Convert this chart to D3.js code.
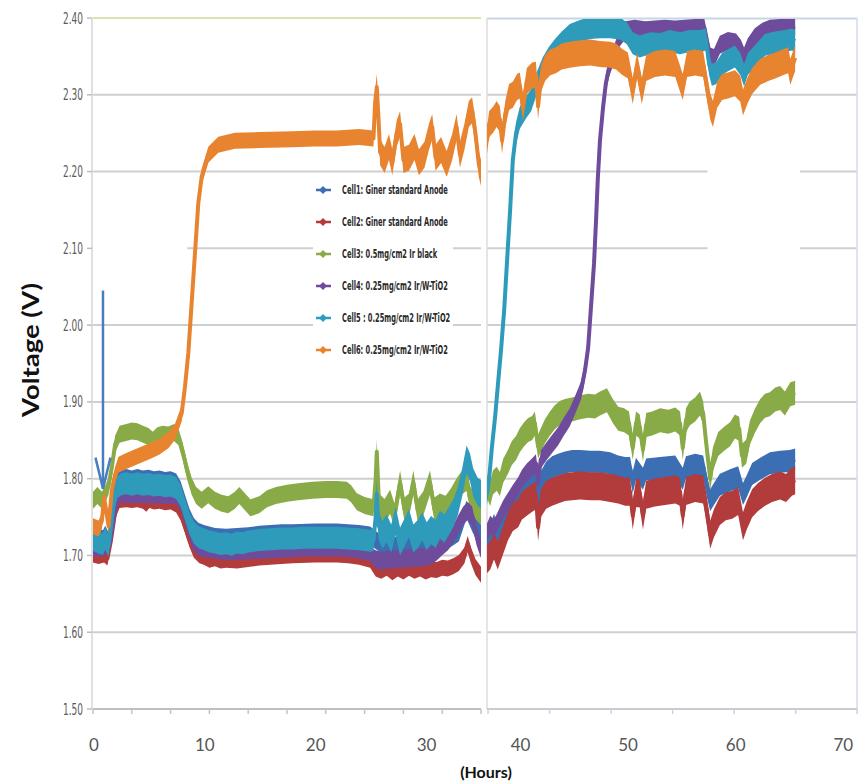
<!DOCTYPE html>
<html>
<head>
<meta charset="utf-8">
<script src="https://cdn.jsdelivr.net/npm/d3@7"></script>
<style>
  body { margin: 0; background: #ffffff; }
  svg { display: block; }
</style>
</head>
<body>
<svg id="chart" width="864" height="781"></svg>
<script>
// ---- Axis ticks and labels ----
const voltTicks = [1.50, 1.60, 1.70, 1.80, 1.90, 2.00, 2.10, 2.20, 2.30, 2.40];
const hourLabelsLeft = [0, 10, 20, 30];
const hourLabelsRight = [40, 50, 60, 70];
const legendLabels = [
  "Cell1: Giner standard Anode",
  "Cell2: Giner standard Anode",
  "Cell3: 0.5mg/cm2 Ir black",
  "Cell4: 0.25mg/cm2 Ir/W-TiO2",
  "Cell5 : 0.25mg/cm2 Ir/W-TiO2",
  "Cell6: 0.25mg/cm2 Ir/W-TiO2"
];

// ---- Cell voltage traces: [hours, volts] ----
const cell1 = [
  [0,1.725],[0.5,1.723],[0.9,1.721],[1.1,1.727],[1.4,1.718],[1.6,1.74],[1.9,1.778],[2.2,1.796],[2.6,1.80],[3,1.801],
  [3.5,1.799],[4,1.801],[4.5,1.799],[5,1.80],[5.5,1.798],[6,1.799],[6.5,1.797],[7,1.798],[7.5,1.795],[7.9,1.785],
  [8.3,1.767],[8.7,1.749],[9.1,1.737],[9.5,1.731],[10,1.728],[11,1.724],[12,1.723],[13,1.724],[14,1.725],[15,1.727],
  [16,1.728],[17,1.729],[18,1.729],[20,1.73],[22,1.73],[23,1.729],[24,1.728],[25,1.726],[25.5,1.72],[26,1.715],
  [27,1.712],[28,1.714],[29,1.713],[30,1.715],[31,1.717],[32,1.72],[33,1.73],[33.7,1.76],[34.3,1.74],[35,1.73],
  [36.6,1.72],[36.9,1.725],[37.25,1.74],[37.6,1.725],[38.1,1.745],[38.55,1.762],[39.0,1.775],[39.5,1.78],[39.85,1.79],[40.3,1.795],
  [40.8,1.80],[41.15,1.804],[41.35,1.765],[41.6,1.795],[42.1,1.808],[42.65,1.815],[43.2,1.818],[43.85,1.821],[44.5,1.823],[45.25,1.823],
  [46.2,1.822],[47.1,1.822],[48.05,1.82],[48.8,1.816],[49.45,1.814],[49.9,1.814],[50.15,1.795],[50.45,1.813],[51.1,1.80],[51.4,1.812],
  [52.7,1.814],[54.1,1.816],[54.8,1.80],[55.1,1.815],[55.95,1.818],[56.7,1.816],[57.05,1.79],[57.35,1.772],[57.7,1.78],[58.25,1.792],
  [59.2,1.798],[59.95,1.802],[60.4,1.78],[60.75,1.79],[61.25,1.806],[62.0,1.813],[62.9,1.82],[63.85,1.822],[64.75,1.823],[65.25,1.825]
];
const cell2 = [
  [0,1.70],[0.5,1.698],[1,1.70],[1.3,1.696],[1.6,1.718],[2,1.757],[2.4,1.771],[3,1.772],[3.5,1.771],[4,1.772],
  [4.5,1.77],[4.8,1.766],[5.1,1.771],[5.5,1.769],[6,1.77],[6.5,1.768],[7,1.769],[7.5,1.765],[7.9,1.755],[8.3,1.738],
  [8.7,1.72],[9.1,1.706],[9.6,1.699],[10,1.697],[10.5,1.693],[11,1.695],[11.5,1.692],[12,1.693],[13,1.692],[14,1.694],
  [15,1.696],[16,1.697],[17,1.698],[18,1.699],[20,1.70],[22,1.70],[23,1.699],[24,1.697],[25,1.693],[25.5,1.683],
  [26,1.68],[26.5,1.684],[27,1.678],[27.5,1.683],[28,1.679],[28.5,1.684],[29,1.68],[29.5,1.683],[30,1.679],[30.5,1.682],
  [31,1.681],[31.5,1.684],[32,1.683],[32.5,1.686],[33,1.69],[33.5,1.70],[33.8,1.715],[34.1,1.70],[34.5,1.685],[35,1.675],
  [36.6,1.695],[36.9,1.70],[37.25,1.713],[37.6,1.70],[38.1,1.72],[38.55,1.738],[39.0,1.75],[39.5,1.755],[39.85,1.765],[40.3,1.77],
  [40.8,1.775],[41.15,1.778],[41.35,1.737],[41.6,1.768],[42.1,1.779],[42.65,1.783],[43.2,1.786],[43.85,1.789],[44.5,1.79],[45.25,1.791],
  [46.2,1.79],[47.1,1.79],[48.05,1.788],[48.8,1.786],[49.45,1.783],[49.9,1.783],[50.15,1.752],[50.45,1.781],[50.8,1.781],[51.1,1.752],
  [51.4,1.779],[52.2,1.782],[53.15,1.784],[54.1,1.786],[54.55,1.783],[54.8,1.752],[55.1,1.784],[55.95,1.788],[56.7,1.786],[57.05,1.757],
  [57.35,1.727],[57.7,1.742],[58.25,1.758],[58.8,1.764],[59.4,1.766],[59.95,1.771],[60.4,1.738],[60.75,1.752],[61.25,1.768],[61.8,1.776],
  [62.45,1.783],[63.1,1.788],[63.85,1.791],[64.4,1.788],[64.95,1.796],[65.25,1.798]
];
const cell3 = [
  [0,1.772],[0.4,1.778],[0.8,1.772],[1.1,1.78],[1.4,1.79],[1.7,1.815],[2.0,1.845],[2.4,1.858],[3,1.86],[3.5,1.862],
  [4,1.861],[4.5,1.858],[5,1.855],[5.4,1.85],[5.8,1.856],[6.3,1.858],[6.8,1.857],[7.3,1.86],[7.7,1.855],[8.1,1.835],
  [8.5,1.81],[8.9,1.79],[9.3,1.778],[9.8,1.772],[10.4,1.779],[11,1.772],[11.6,1.768],[12.2,1.766],[12.8,1.772],[13.2,1.778],
  [13.7,1.77],[14.2,1.762],[15,1.766],[15.7,1.774],[16.5,1.778],[17.5,1.781],[18.5,1.783],[19.8,1.785],[21,1.786],[22,1.786],
  [22.9,1.785],[23.3,1.78],[23.8,1.77],[24.5,1.765],[25.3,1.762],[25.5,1.80],[25.6,1.835],[25.7,1.80],[25.8,1.765],[26.3,1.758],
  [26.8,1.77],[27.2,1.752],[27.7,1.795],[28.1,1.76],[28.5,1.765],[28.9,1.795],[29.3,1.758],[29.8,1.768],[30.4,1.795],[30.8,1.76],
  [31.3,1.765],[31.8,1.762],[32.3,1.772],[32.8,1.785],[33.3,1.795],[33.7,1.80],[34,1.775],[34.4,1.765],[35,1.755],
  [36.6,1.79],[36.9,1.78],[37.15,1.795],[37.5,1.80],[37.8,1.793],[38.1,1.81],[38.55,1.822],[38.9,1.833],[39.3,1.84],[39.65,1.85],
  [40.05,1.858],[40.4,1.863],[40.8,1.866],[41.05,1.872],[41.35,1.842],[41.6,1.85],[42.0,1.862],[42.45,1.872],[42.9,1.88],[43.4,1.886],
  [43.85,1.888],[44.5,1.89],[45.25,1.893],[46.0,1.895],[46.65,1.894],[47.1,1.898],[47.75,1.902],[48.3,1.888],[48.8,1.878],[49.35,1.876],
  [49.8,1.872],[50.15,1.84],[50.45,1.872],[50.8,1.868],[51.1,1.838],[51.4,1.87],[51.95,1.872],[52.7,1.876],[53.45,1.874],[54.1,1.877],
  [54.55,1.872],[54.8,1.84],[55.1,1.876],[55.45,1.885],[55.95,1.89],[56.4,1.898],[56.7,1.885],[56.95,1.85],[57.35,1.80],[57.6,1.825],
  [58.1,1.845],[58.65,1.852],[59.2,1.858],[59.65,1.868],[60.05,1.865],[60.3,1.83],[60.7,1.835],[61.05,1.86],[61.5,1.875],[62.0,1.888],
  [62.45,1.895],[62.9,1.897],[63.4,1.903],[63.85,1.905],[64.3,1.898],[64.8,1.91],[65.25,1.912]
];
const cell4 = [
  [0,1.708],[1,1.708],[1.5,1.715],[2,1.76],[2.4,1.778],[7.5,1.776],[8,1.765],[8.5,1.74],[9,1.718],[9.5,1.708],
  [12,1.703],[20,1.708],[23,1.707],[24,1.705],[25,1.702],[25.5,1.695],[26,1.693],[27,1.695],[28,1.696],[29,1.697],
  [30,1.698],[30.5,1.70],[31,1.705],[31.5,1.712],[32,1.718],[32.5,1.728],[33,1.742],[33.4,1.752],[33.8,1.758],[34.2,1.752],
  [34.6,1.725],[35,1.708],
  [36.6,1.73],[36.9,1.74],[37.25,1.735],[37.6,1.745],[38.1,1.76],[38.55,1.77],[39.0,1.78],[39.5,1.79],[39.85,1.80],[40.3,1.808],
  [40.8,1.815],[41.15,1.82],[41.35,1.795],[41.6,1.825],[42.1,1.835],[42.65,1.845],[43.2,1.855],[43.75,1.868],[44.3,1.88],[44.85,1.898],
  [45.35,1.915],[45.7,1.94],[46.0,1.97],[46.25,2.02],[46.55,2.08],[46.75,2.14],[46.9,2.19],[47.1,2.24],[47.4,2.285],[47.65,2.315],
  [47.95,2.335],[48.2,2.345],[48.6,2.36],[48.95,2.375],[49.45,2.384],[50.35,2.386],[51.3,2.384],[52.2,2.385],[53.15,2.386],[54.1,2.385],
  [55.0,2.386],[55.95,2.387],[56.8,2.388],[57.05,2.37],[57.35,2.35],[57.7,2.348],[58.25,2.365],[59.0,2.37],[59.75,2.368],[60.2,2.36],
  [60.5,2.35],[60.85,2.362],[61.5,2.375],[62.2,2.382],[62.9,2.386],[63.85,2.387],[64.75,2.388],[65.25,2.389]
];
const cell5 = [
  [0,1.72],[0.5,1.717],[0.9,1.715],[1.1,1.722],[1.4,1.712],[1.6,1.735],[1.9,1.772],[2.2,1.789],[2.6,1.793],[3,1.794],
  [3.5,1.792],[4,1.794],[4.5,1.792],[5,1.793],[5.5,1.791],[6,1.792],[6.5,1.79],[7,1.791],[7.5,1.788],[7.9,1.778],
  [8.3,1.76],[8.7,1.742],[9.1,1.73],[9.5,1.724],[10,1.721],[10.5,1.718],[11,1.717],[11.5,1.715],[12,1.716],[12.5,1.714],
  [13,1.717],[13.5,1.716],[14,1.718],[15,1.72],[16,1.721],[17,1.722],[18,1.722],[19,1.723],[20,1.723],[21,1.723],
  [22,1.723],[23,1.722],[24,1.721],[25,1.719],[25.3,1.72],[25.5,1.75],[25.6,1.78],[25.75,1.74],[26.1,1.727],[26.5,1.735],
  [26.9,1.722],[27.3,1.745],[27.7,1.718],[28.1,1.73],[28.5,1.742],[28.9,1.722],[29.3,1.728],[29.7,1.738],[30.1,1.725],[30.5,1.733],
  [30.9,1.728],[31.3,1.74],[31.7,1.735],[32.1,1.745],[32.5,1.755],[32.9,1.77],[33.3,1.795],[33.7,1.825],[34.0,1.815],[34.3,1.795],
  [34.7,1.783],[35,1.78],
  [36.6,1.78],[36.8,1.80],[37.05,1.84],[37.35,1.88],[37.6,1.92],[37.9,1.967],[38.2,2.02],[38.45,2.08],[38.75,2.15],[39.0,2.215],
  [39.3,2.25],[39.65,2.27],[40.25,2.284],[40.7,2.293],[41.25,2.316],[41.8,2.335],[42.35,2.348],[42.9,2.358],[43.55,2.368],[44.3,2.378],
  [45.25,2.383],[46.2,2.387],[47.1,2.388],[48.05,2.388],[49.0,2.386],[49.6,2.38],[50.15,2.367],[50.8,2.363],[51.75,2.367],[52.7,2.366],
  [53.6,2.37],[54.55,2.367],[55.45,2.37],[56.4,2.37],[56.95,2.372],[57.25,2.34],[57.5,2.326],[57.9,2.328],[58.45,2.34],[59.0,2.345],
  [59.65,2.35],[60.15,2.34],[60.5,2.325],[60.85,2.34],[61.5,2.35],[62.45,2.365],[63.4,2.368],[64.3,2.37],[64.95,2.372],[65.25,2.37]
];
const cell6 = [
  [0,1.738],[0.5,1.735],[0.8,1.745],[1.0,1.775],[1.2,1.758],[1.4,1.738],[1.7,1.785],[2.0,1.805],[2.3,1.818],[3,1.823],
  [3.8,1.828],[4.5,1.832],[5.3,1.837],[6,1.842],[6.8,1.85],[7.4,1.861],[8,1.885],[8.3,1.92],[8.6,1.964],[8.9,2.029],
  [9.2,2.094],[9.5,2.159],[9.8,2.193],[10.4,2.222],[11.3,2.235],[12.8,2.24],[15,2.241],[18,2.242],[20,2.243],[22,2.243],
  [24,2.245],[25.3,2.243],[25.45,2.29],[25.6,2.31],[25.75,2.27],[25.9,2.225],[26.3,2.215],[26.7,2.232],[27.0,2.212],[27.4,2.25],
  [27.7,2.262],[28.0,2.215],[28.5,2.218],[29.0,2.232],[29.4,2.212],[29.9,2.222],[30.3,2.245],[30.6,2.258],[30.9,2.218],[31.4,2.228],
  [31.9,2.21],[32.4,2.232],[32.8,2.258],[33.1,2.222],[33.5,2.245],[33.9,2.275],[34.2,2.28],[34.5,2.25],[34.8,2.21],[35,2.198],
  [36.6,2.24],[36.8,2.262],[37.15,2.267],[37.5,2.275],[37.8,2.268],[38.0,2.24],[38.3,2.275],[38.65,2.297],[39.0,2.30],[39.4,2.31],
  [39.65,2.312],[39.95,2.283],[40.3,2.318],[40.8,2.325],[41.15,2.326],[41.35,2.285],[41.6,2.32],[42.0,2.335],[42.45,2.342],[43.0,2.345],
  [43.55,2.35],[44.3,2.352],[45.25,2.354],[46.2,2.355],[47.1,2.353],[48.05,2.352],[48.6,2.35],[49.15,2.343],[49.7,2.338],[50.15,2.305],
  [50.55,2.338],[51.0,2.305],[51.4,2.335],[52.2,2.34],[53.15,2.342],[54.1,2.34],[54.8,2.31],[55.2,2.34],[55.95,2.342],[56.7,2.34],
  [57.05,2.31],[57.35,2.285],[57.6,2.275],[58.0,2.3],[58.45,2.31],[59.0,2.312],[59.65,2.315],[60.15,2.308],[60.4,2.29],[60.8,2.305],
  [61.25,2.318],[62.0,2.33],[62.75,2.335],[63.4,2.338],[64.05,2.342],[64.6,2.345],[64.8,2.33],[65.25,2.348]
];

// Arrow marking the start of the test: [hours, from volts, to volts]
const startArrow = [0.9, 2.045, 1.787];

// ---- Layout ----
const svg = d3.select("#chart");
const y = d3.scaleLinear([1.5, 2.4], [709, 18]);
const xL = d3.scaleLinear([0, 35], [93, 481]);      // first run
const xR = d3.scaleLinear([36.6, 71], [487, 857]);  // continued run
const SPLIT_H = 36;
const NOISY_FROM = 25.4;

const styles = [
  { color: "#3b6eb2", hw: { calm: 9,  noisy: 9,  right: 11 } },
  { color: "#b23b3b", hw: { calm: 7,  noisy: 8,  right: 14 } },
  { color: "#88ab48", hw: { calm: 8.5, noisy: 12, right: 12 } },
  { color: "#6f4b9b", hw: { calm: 7,  noisy: 9,  right: 9 } },
  { color: "#2f9bbb", hw: { calm: 11, noisy: 14, right: 11 } },
  { color: "#e8842f", hw: { calm: 8,  noisy: 13, right: 13 } }
];
const cells = [cell1, cell2, cell3, cell4, cell5, cell6];

const gridColor = "#cfcfcf";
const gridGaps = [
  { v: 2.1, panel: "L", from: 0, to: 8.5 },
  { v: 2.2, panel: "R", from: 57.1, to: 65.7 },
  { v: 2.1, panel: "R", from: 57.1, to: 65.7 }
];

const defs = svg.append("defs");
defs.append("clipPath").attr("id", "clipL").append("rect")
  .attr("x", xL(0)).attr("y", y(2.4)).attr("width", xL(35) - xL(0)).attr("height", y(1.5) - y(2.4));
defs.append("clipPath").attr("id", "clipR").append("rect")
  .attr("x", xR.range()[0]).attr("y", y(2.4) + 1).attr("width", xR.range()[1] - xR.range()[0]).attr("height", y(1.5) - y(2.4) - 1);

// ---- Gridlines ----
const grid = svg.append("g");
function gridSegments(v, panel, x, h0, h1) {
  const gaps = gridGaps.filter(g => g.v === v && g.panel === panel);
  let segs = [[h0, h1]];
  gaps.forEach(g => {
    segs = segs.flatMap(([a, b]) => {
      const out = [];
      if (g.from > a) out.push([a, Math.min(b, g.from)]);
      if (g.to < b) out.push([Math.max(a, g.to), b]);
      return out;
    });
  });
  segs.forEach(([a, b]) => {
    grid.append("line")
      .attr("x1", x(a)).attr("x2", x(b))
      .attr("y1", y(v)).attr("y2", y(v))
      .attr("stroke", gridColor).attr("stroke-width", 2);
  });
}
voltTicks.filter(v => v > 1.5 && v < 2.4).forEach(v => {
  gridSegments(v, "L", xL, 0, 35);
  gridSegments(v, "R", xR, xR.domain()[0], 71);
});

// Top edges of the two panels
grid.append("line").attr("x1", xL(0)).attr("x2", xL(35)).attr("y1", y(2.4)).attr("y2", y(2.4))
  .attr("stroke", "#dde2b0").attr("stroke-width", 2);
grid.append("line").attr("x1", xR(36.6)).attr("x2", xR(71)).attr("y1", y(2.4) + 0.5).attr("y2", y(2.4) + 0.5)
  .attr("stroke", "#c9d6e3").attr("stroke-width", 2);
// Right panel side borders
grid.append("line").attr("x1", xR(71)).attr("x2", xR(71)).attr("y1", y(2.4)).attr("y2", y(1.5))
  .attr("stroke", "#d3dde8").attr("stroke-width", 1.5);
grid.append("line").attr("x1", xR(36.6)).attr("x2", xR(36.6)).attr("y1", y(2.4)).attr("y2", y(1.5))
  .attr("stroke", "#dcdcdc").attr("stroke-width", 1.5);

// Left vertical axis
grid.append("line").attr("x1", xL(0) - 1).attr("x2", xL(0) - 1).attr("y1", y(2.4)).attr("y2", y(1.5))
  .attr("stroke", "#d6d6d6").attr("stroke-width", 1.5);
voltTicks.forEach(v => {
  grid.append("line").attr("x1", xL(0) - 6).attr("x2", xL(0) - 1).attr("y1", y(v)).attr("y2", y(v))
    .attr("stroke", "#bdbdbd").attr("stroke-width", 1.5);
});

// Horizontal axes with minor ticks
grid.append("line").attr("x1", xL(0)).attr("x2", xL(35)).attr("y1", y(1.5)).attr("y2", y(1.5))
  .attr("stroke", "#bfbfbf").attr("stroke-width", 2);
d3.range(0, 35.01, 3.5).forEach(h => {
  grid.append("line").attr("x1", xL(h)).attr("x2", xL(h)).attr("y1", y(1.5)).attr("y2", y(1.5) + 5)
    .attr("stroke", "#c4c4c4").attr("stroke-width", 1.5);
});
grid.append("line").attr("x1", xR(36.6)).attr("x2", xR(71)).attr("y1", y(1.5)).attr("y2", y(1.5))
  .attr("stroke", "#c8ccd2").attr("stroke-width", 2);
d3.range(36.7, 71.2, 5.72).forEach(h => {
  grid.append("line").attr("x1", xR(h)).attr("x2", xR(h)).attr("y1", y(1.5)).attr("y2", y(1.5) + 5)
    .attr("stroke", "#cdd2d8").attr("stroke-width", 1.5);
});

// ---- Traces ----
const plotL = svg.append("g").attr("clip-path", "url(#clipL)");
const plotR = svg.append("g").attr("clip-path", "url(#clipR)");

cells.forEach((data, i) => {
  const st = styles[i];
  const left = data.filter(d => d[0] < SPLIT_H);
  const right = data.filter(d => d[0] >= SPLIT_H);
  const hwL = d => (d[0] >= NOISY_FROM ? st.hw.noisy : st.hw.calm);
  const hwR = () => st.hw.right;

  [[plotL, left, xL, hwL], [plotR, right, xR, hwR]].forEach(([g, pts, x, hw]) => {
    if (!pts.length) return;
    const band = d3.area()
      .x(d => x(d[0]))
      .y0(d => y(d[1]) + hw(d))
      .y1(d => y(d[1]) - hw(d));
    const line = d3.line().x(d => x(d[0])).y(d => y(d[1]));
    g.append("path").datum(pts).attr("d", band).attr("fill", st.color);
    g.append("path").datum(pts).attr("d", line)
      .attr("fill", "none").attr("stroke", st.color).attr("stroke-width", 4)
      .attr("stroke-linejoin", "round");
  });
});

// ---- Start arrow ----
const arrowColor = "#4a7dc0";
const [ah, av0, av1] = startArrow;
svg.append("line")
  .attr("x1", xL(ah)).attr("x2", xL(ah))
  .attr("y1", y(av0)).attr("y2", y(av1))
  .attr("stroke", arrowColor).attr("stroke-width", 2.5);
svg.append("polyline")
  .attr("points", [[xL(ah) - 7.5, y(av1) - 31], [xL(ah), y(av1)], [xL(ah) + 7.5, y(av1) - 31]].map(p => p.join(",")).join(" "))
  .attr("fill", "none").attr("stroke", arrowColor).attr("stroke-width", 2.5)
  .attr("stroke-linejoin", "miter");

// ---- Legend ----
const legend = svg.append("g").attr("transform", "translate(313,176)");
legend.append("rect").attr("width", 140).attr("height", 187).attr("fill", "#ffffff");
const narrow = "'Liberation Sans Narrow','DejaVu Sans Condensed','Liberation Sans',sans-serif";
const rows = legend.selectAll("g.row").data(legendLabels).join("g")
  .attr("class", "row")
  .attr("transform", (d, i) => `translate(0,${14 + i * 32})`);
rows.append("line").attr("x1", 3).attr("x2", 18).attr("y1", 0).attr("y2", 0)
  .attr("stroke", (d, i) => styles[i].color).attr("stroke-width", 2.5);
rows.append("path").attr("d", "M10,-4 L14,0 L10,4 L6,0 Z")
  .attr("fill", (d, i) => styles[i].color);
const legendText = rows.append("text")
  .attr("x", 0).attr("y", 4)
  .attr("font-family", narrow).attr("font-weight", "bold").attr("font-size", 11.5)
  .attr("fill", "#2a2a2a")
  .text(d => d);
const lw = legendText.node().getComputedTextLength();
const ls = 106 / lw;
legendText.attr("transform", `translate(29,0) scale(${ls},1)`);

// ---- Tick labels ----
const ylab = svg.append("g");
const yText = ylab.selectAll("text").data(voltTicks).join("text")
  .attr("font-family", narrow).attr("font-size", 16).attr("fill", "#5a5a5a")
  .attr("text-anchor", "end")
  .text(d => d.toFixed(2));
const yw = yText.node().getComputedTextLength();
const ys = 20 / yw;
yText.attr("transform", d => `translate(83,${y(d) + 5.5}) scale(${ys},1)`);

const xfont = "Lato, 'Open Sans', sans-serif";
svg.append("g").selectAll("text").data(hourLabelsLeft).join("text")
  .attr("x", d => xL(d) + 1).attr("y", 751)
  .attr("text-anchor", "middle").attr("font-family", xfont).attr("font-size", 17).attr("fill", "#555555")
  .text(d => d);
svg.append("g").selectAll("text").data(hourLabelsRight).join("text")
  .attr("x", d => xR(d) - 3).attr("y", 751)
  .attr("text-anchor", "middle").attr("font-family", xfont).attr("font-size", 17).attr("fill", "#555555")
  .text(d => d);

// ---- Axis titles ----
svg.append("text")
  .attr("transform", "translate(39,350) rotate(-90)")
  .attr("text-anchor", "middle").attr("font-family", xfont).attr("font-weight", "bold")
  .attr("font-size", 23).attr("fill", "#111")
  .attr("textLength", 134).attr("lengthAdjust", "spacingAndGlyphs")
  .text("Voltage (V)");
svg.append("text")
  .attr("x", 486).attr("y", 778)
  .attr("text-anchor", "middle").attr("font-family", xfont).attr("font-weight", "bold")
  .attr("font-size", 16).attr("fill", "#111")
  .text("(Hours)");
</script>
</body>
</html>
